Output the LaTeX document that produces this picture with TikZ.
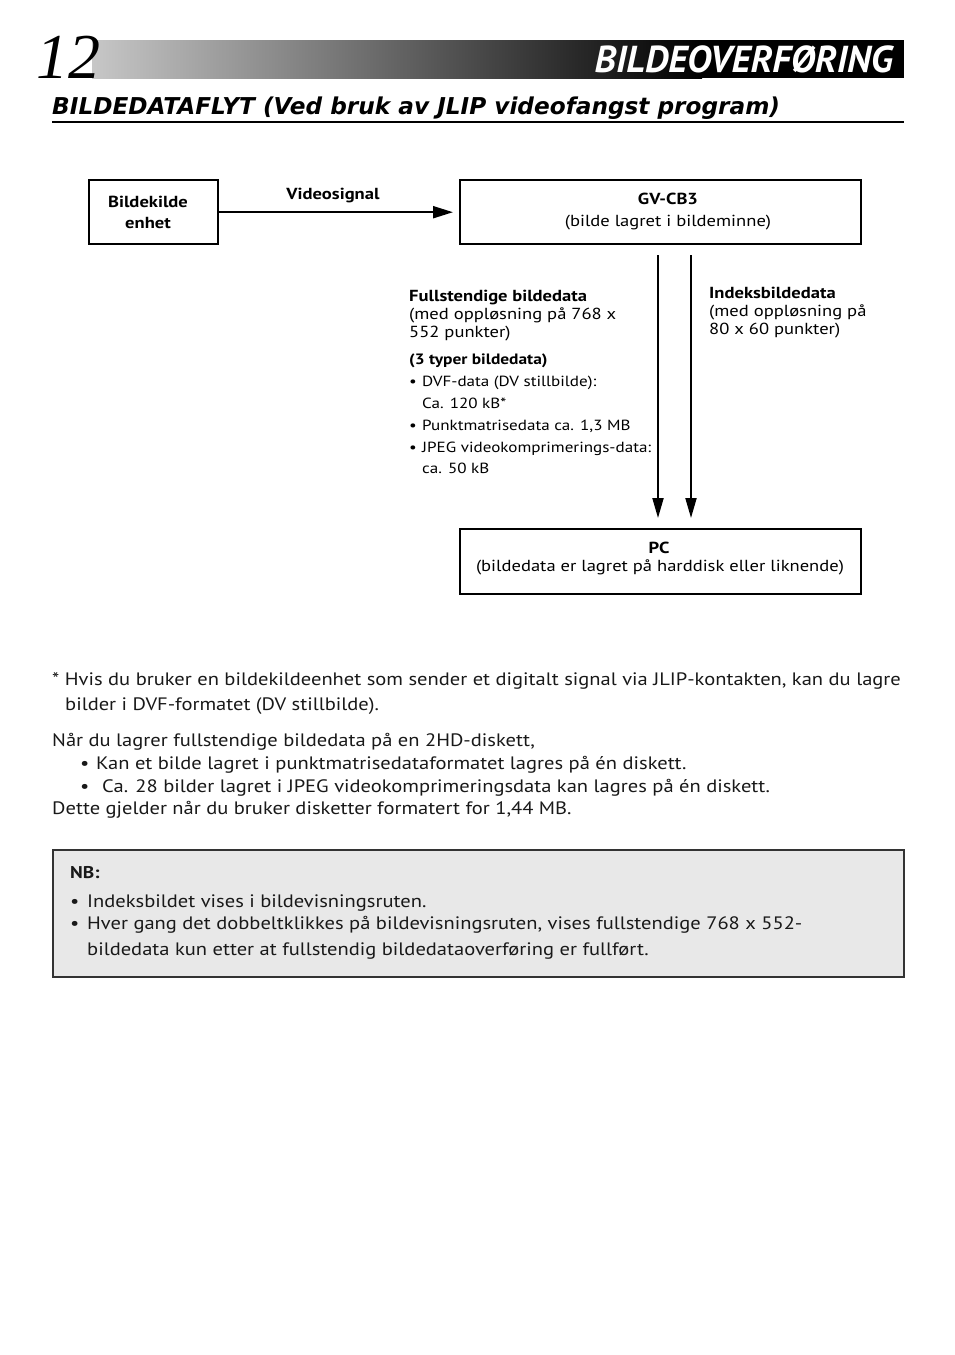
\documentclass[tikz,border=0pt]{standalone}
\usepackage{fontspec}
\setmainfont{PT Sans}[FakeStretch=1.16]
\newfontfamily\bodyfont[FakeStretch=1.14]{PT Sans}
\newfontfamily\headfont[FakeStretch=1.0]{PT Sans}
\newfontfamily\subfont{DejaVu Sans}
\newfontfamily\numfont[FakeStretch=1.0]{Liberation Serif}
\usetikzlibrary{arrows.meta}
\begin{document}
\begin{tikzpicture}[x=1pt,y=-1pt,
  box/.style={draw,line width=2.4pt,inner sep=0pt,anchor=north west},
  dtext/.style={font=\fontsize{16}{18}\selectfont,inner sep=0pt,anchor=base},
  dbold/.style={dtext,font=\bfseries\fontsize{16}{18}\selectfont},
  dleft/.style={dtext,anchor=base west},
  dlist/.style={dleft,font=\fontsize{14.7}{18}\selectfont},
  btext/.style={font=\bodyfont\fontsize{18}{25}\selectfont,inner sep=0pt,anchor=base west,text=black!90},
  flow/.style={line width=2pt,-{Triangle[length=20pt,width=12pt]}},
]
\useasboundingbox (0,0) rectangle (954,1355);
\fill[white] (0,0) rectangle (954,1355);
% header band
\fill[black] (600,40) rectangle (904,78);
\shade[left color=black!22, right color=black] (92,40) rectangle (702,78);
\node[font=\numfont\itshape\fontsize{64}{64}\selectfont,anchor=base west,inner sep=0pt] (num) at (36,78) {12};
\node[font=\headfont\bfseries\itshape\fontsize{37.5}{38}\selectfont,text=white,anchor=base east,inner sep=0pt] (title) at (893,72) {BILDEOVERFØRING};
\node[font=\subfont\bfseries\itshape\fontsize{23.2}{24}\selectfont,anchor=base west,inner sep=0pt] (sub) at (52,114) {BILDEDATAFLYT (Ved bruk av JLIP videofangst program)};
\draw[line width=2pt] (52,122) -- (904,122);

% diagram boxes
\node[box,minimum width=129pt,minimum height=64pt] (src) at (88,179) {};
\node[box,minimum width=401pt,minimum height=64pt] (gv) at (459,179) {};
\node[box,minimum width=401pt,minimum height=65pt] (pc) at (459,528) {};

\node[dbold] (srct1) at (148,207) {Bildekilde};
\node[dbold] (srct2) at (148,228) {enhet};
\node[dbold] (vs) at (333,199) {Videosignal};
\node[dbold] (gvt1) at (668,204) {GV-CB3};
\node[dtext] (gvt2) at (668,226) {(bilde lagret i bildeminne)};
\node[dbold] (pct1) at (659,553) {PC};
\node[dtext] (pct2) at (660,571) {(bildedata er lagret på harddisk eller liknende)};

% connectors
\draw[flow,shorten >=6pt] (src.east) -- (gv.west);
\coordinate (d1s) at (658,255);
\coordinate (d1e) at (658,518);
\coordinate (d2s) at (691,255);
\coordinate (d2e) at (691,518);
\draw[flow,-{Triangle[length=20pt,width=11pt]}] (d1s) -- (d1e);
\draw[flow,-{Triangle[length=20pt,width=11pt]}] (d2s) -- (d2e);

% left label
\node[dleft,font=\bfseries\fontsize{16}{18}\selectfont] (l1) at (409,301) {Fullstendige bildedata};
\node[dleft] (l2) at (409,319) {(med oppløsning på 768 x};
\node[dleft] (l3) at (409,337) {552 punkter)};
\node[dleft,font=\bfseries\fontsize{15}{18}\selectfont] (l4) at (409,364) {(3 typer bildedata)};
\node[dlist] (l5b) at (409,386) {•};
\node[dlist] (l5) at (422,386) {DVF-data (DV stillbilde):};
\node[dlist] (l6) at (422,408) {Ca. 120 kB*};
\node[dlist] (l7b) at (409,430) {•};
\node[dlist] (l7) at (422,430) {Punktmatrisedata ca. 1,3 MB};
\node[dlist] (l8b) at (409,452) {•};
\node[dlist] (l8) at (422,452) {JPEG videokomprimerings-data:};
\node[dlist] (l9) at (422,473) {ca. 50 kB};

% right label
\node[dleft,font=\bfseries\fontsize{16}{18}\selectfont] (r1) at (709,298) {Indeksbildedata};
\node[dleft] (r2) at (709,316) {(med oppløsning på};
\node[dleft] (r3) at (709,334) {80 x 60 punkter)};

% body text
\node[btext] (b1) at (52,685) {* Hvis du bruker en bildekildeenhet som sender et digitalt signal via JLIP-kontakten, kan du lagre};
\node[btext] (b2) at (65,710) {bilder i DVF-formatet (DV stillbilde).};
\node[btext] (b3) at (52,746) {Når du lagrer fullstendige bildedata på en 2HD-diskett,};
\node[btext] (b4b) at (80,769) {•};
\node[btext] (b4) at (96,769) {Kan et bilde lagret i punktmatrisedataformatet lagres på én diskett.};
\node[btext] (b5b) at (80,792) {•};
\node[btext] (b5) at (102,792) {Ca. 28 bilder lagret i JPEG videokomprimeringsdata kan lagres på én diskett.};
\node[btext] (b6) at (52,814) {Dette gjelder når du bruker disketter formatert for 1,44 MB.};

% NB box
\node[draw=black!80,fill=black!9,line width=1.5pt,minimum width=851pt,minimum height=127pt,anchor=north west,inner sep=0pt] (nb) at (52,849) {};
\node[btext,font=\bodyfont\bfseries\fontsize{17}{25}\selectfont] (nb1) at (70,878) {NB:};
\node[btext] (nb2b) at (70,907) {•};
\node[btext] (nb2) at (87,907) {Indeksbildet vises i bildevisningsruten.};
\node[btext] (nb3b) at (70,929) {•};
\node[btext] (nb3) at (87,929) {Hver gang det dobbeltklikkes på bildevisningsruten, vises fullstendige 768 x 552-};
\node[btext] (nb4) at (87,955) {bildedata kun etter at fullstendig bildedataoverføring er fullført.};
\end{tikzpicture}
\end{document}
